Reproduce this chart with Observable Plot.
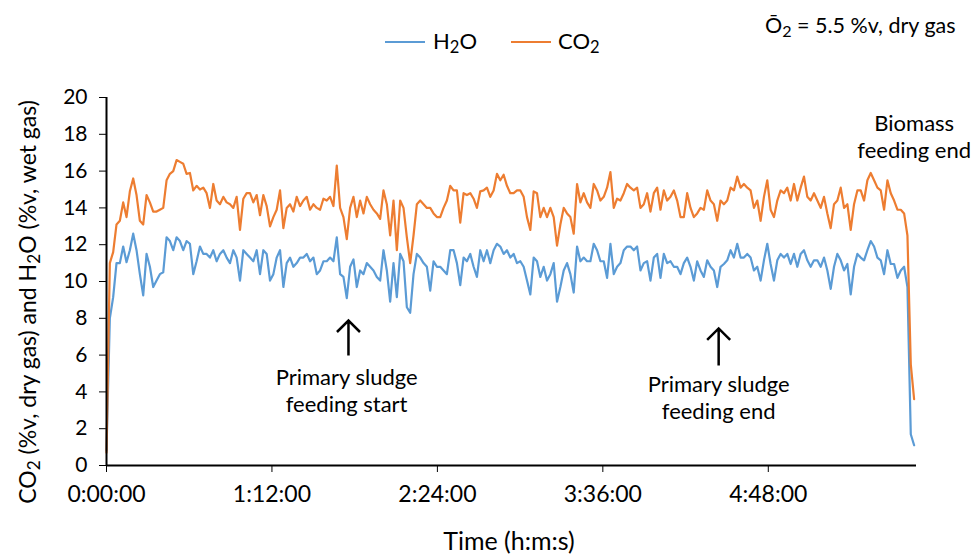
<!DOCTYPE html>
<html>
<head>
<meta charset="utf-8">
<script src="https://cdn.jsdelivr.net/npm/d3@7"></script>
<script src="https://cdn.jsdelivr.net/npm/@observablehq/plot@0.6"></script>
<style>
  body { margin: 0; background: #fff; }
  #wrap { position: relative; width: 971px; height: 557px; font-family: Lato, "Open Sans", sans-serif; color: #000; }
  #wrap svg { position: absolute; left: 0; top: 0; }
  .ov { position: absolute; white-space: nowrap; line-height: 1; }
  .sub { font-size: 0.75em; position: relative; top: 0.22em; }
  .sw { position: absolute; height: 2px; width: 40px; }
  #wrap svg g[aria-label^="x-axis"] text { font-size: 23px; }
</style>
</head>
<body>
<div id="wrap">
  <div class="sw" style="left:385px;top:41px;background:#5B9BD5"></div>
  <div class="ov" style="left:433px;top:30px;font-size:22px">H<span class="sub">2</span>O</div>
  <div class="sw" style="left:511px;top:41px;background:#ED7D31"></div>
  <div class="ov" style="left:558px;top:30px;font-size:22px">CO<span class="sub">2</span></div>
  <div class="ov" style="left:765px;top:15px;font-size:21.5px">Ō<span class="sub">2</span> = 5.5 %v, dry gas</div>
  <div class="ov" style="left:509px;top:528px;font-size:25px;transform:translateX(-50%)">Time (h:m:s)</div>
  <div class="ov" style="left:27px;top:302px;font-size:23px;transform:translate(-50%,-50%) rotate(-90deg)">CO<span class="sub">2</span> (%v, dry gas) and H<span class="sub">2</span>O (%v, wet gas)</div>
</div>
<script>
// Sample interval of the logged gas analyser data (seconds)
const sampleSeconds = 87.14;

// CO2 (%v, dry gas)
const co2 = [
  0.7,
  11.0, 11.6, 13.1, 13.3, 14.3, 13.5, 14.9, 15.6, 14.7, 13.3, 13.1, 14.7, 14.3, 13.8, 13.8, 13.9, 14.0, 15.5, 15.85, 16.0,
  16.6, 16.5, 16.4, 15.85, 15.9, 14.95, 15.2, 15.0, 15.1, 14.8, 14.0, 15.3, 14.4, 14.2, 14.6, 14.3, 14.2, 14.0, 14.6, 12.8,
  14.5, 14.8, 14.8, 14.3, 14.7, 13.6, 14.7, 14.1, 13.0, 13.5, 13.9, 14.95, 12.9, 14.0, 14.2, 13.8, 14.6, 14.1, 14.4,
  14.6, 13.9, 14.2, 14.0, 13.9, 14.5, 14.4, 14.6, 14.1, 16.3, 14.0, 13.5, 12.3, 14.0, 14.6, 13.5, 14.4, 13.7, 14.6, 14.2,
  13.9, 13.7, 13.4, 14.95, 14.2, 12.5, 14.4, 11.7, 14.4, 14.0, 12.4, 11.0, 12.5, 14.2, 14.4, 14.2, 14.0, 14.0, 13.7, 13.5,
  13.5, 14.0, 14.4, 15.2, 14.95, 14.95, 13.2, 14.8, 14.7, 14.8, 14.5, 14.0, 14.9, 14.95, 15.1, 14.6, 14.95, 15.85, 15.5, 15.8,
  15.2, 14.8, 14.8, 14.95, 14.95, 14.6, 13.5, 12.8, 14.9, 14.8, 13.5, 14.0, 13.5, 14.0, 13.5, 11.95, 13.1, 14.0, 13.7, 13.5,
  12.6, 15.3, 14.3, 14.8, 14.3, 14.0, 15.3, 14.95, 14.4, 14.6, 15.1, 15.95, 14.0, 14.5, 14.4, 14.8, 15.3, 15.1, 14.95, 15.1,
  14.0, 14.2, 14.8, 13.8, 14.8, 15.1, 13.9, 14.95, 14.4, 14.6, 14.95, 14.4, 13.5, 13.5, 14.8, 14.0, 13.5, 13.7, 14.0, 13.9,
  14.95, 14.4, 14.2, 13.3, 14.4, 14.2, 14.4, 15.1, 14.95, 15.7, 15.1, 15.3, 15.1, 14.95, 14.0, 14.4, 13.3, 14.6, 15.5, 13.9,
  13.5, 14.4, 14.95, 14.8, 15.1, 14.4, 15.3, 14.4, 15.1, 15.7, 14.6, 14.4, 14.8, 14.4, 14.0, 14.6, 13.7, 12.9, 14.2, 14.4,
  15.1, 14.0, 14.2, 12.8, 14.2, 14.95, 14.95, 14.4, 15.5, 15.9, 15.5, 15.1, 14.95, 13.9, 15.5, 14.8, 14.4, 13.9, 13.9, 13.7,
  12.5, 5.5, 3.6
];

// H2O (%v, wet gas)
const h2o = [
  0.8,
  8.0, 9.15, 11.0, 11.0, 11.9, 11.05, 11.7, 12.6, 11.7, 10.4, 9.25, 11.5, 10.8, 9.7, 10.05, 10.4, 10.5, 12.4, 12.2, 11.7,
  12.4, 12.2, 11.7, 12.2, 12.05, 10.4, 11.1, 11.9, 11.5, 11.5, 11.3, 11.7, 11.1, 11.5, 11.7, 11.3, 11.0, 11.7, 11.3, 10.05,
  11.7, 11.5, 11.3, 11.1, 11.7, 10.4, 11.7, 11.5, 10.05, 10.4, 11.3, 11.7, 9.7, 11.0, 11.3, 10.8, 11.0, 11.3, 11.3,
  11.5, 11.1, 11.3, 10.4, 10.6, 11.1, 11.1, 11.3, 11.1, 12.4, 10.4, 10.25, 9.1, 10.8, 11.2, 9.7, 10.6, 10.4, 11.0, 10.8,
  10.6, 10.25, 10.05, 11.7, 10.6, 8.9, 11.0, 9.15, 11.5, 11.1, 8.6, 8.3, 10.4, 11.5, 11.3, 11.0, 10.8, 9.5, 11.1, 10.8,
  10.8, 10.6, 10.4, 11.7, 11.7, 11.0, 9.8, 11.3, 11.1, 11.5, 10.8, 10.25, 11.7, 11.1, 11.7, 11.0, 11.7, 12.05, 11.9, 11.5,
  11.7, 11.3, 11.5, 11.0, 11.1, 10.8, 10.05, 9.3, 11.3, 11.1, 10.25, 10.8, 10.05, 10.4, 11.0, 8.9, 9.7, 10.6, 11.0, 10.4,
  9.4, 11.9, 11.1, 11.3, 11.1, 11.1, 12.05, 11.7, 11.1, 11.1, 10.2, 12.05, 10.4, 10.8, 11.0, 11.7, 11.9, 11.9, 11.7, 11.9,
  10.6, 11.0, 11.1, 10.05, 11.3, 11.5, 10.2, 11.5, 11.0, 11.1, 10.8, 10.8, 10.4, 11.0, 11.3, 10.8, 10.05, 11.1, 10.6, 10.25,
  11.15, 10.8, 10.6, 9.7, 10.8, 10.95, 11.15, 11.7, 11.3, 12.05, 11.3, 11.3, 11.5, 11.3, 10.6, 10.8, 10.05, 11.15, 12.05, 10.95,
  10.05, 11.15, 11.5, 11.3, 11.5, 10.95, 11.5, 10.8, 11.5, 11.7, 11.15, 10.8, 11.15, 11.15, 10.8, 11.3, 10.6, 9.6, 10.8, 11.5,
  11.15, 10.6, 10.95, 9.3, 10.8, 11.5, 11.3, 11.15, 11.7, 12.2, 11.9, 11.3, 11.15, 10.4, 11.7, 10.95, 10.95, 10.2, 10.6, 10.8,
  9.7, 1.7, 1.1
];

// Axis ticks (minutes / %v)
const xTicks = [0, 72, 144, 216, 288];
const yTicks = [0, 2, 4, 6, 8, 10, 12, 14, 16, 18, 20];

// Annotations (time in minutes, values in %v)
const arrows = [
  {t: 105.3, from: 5.98, to: 7.88},
  {t: 266.4, from: 5.43, to: 7.45}
];
const notes = [
  {t: 104.5, v: 4.1, text: "Primary sludge\nfeeding start"},
  {t: 266.4, v: 3.72, text: "Primary sludge\nfeeding end"},
  {t: 351.5, v: 17.9, text: "Biomass\nfeeding end"}
];

const rows = co2.map((c, i) => ({t: i * sampleSeconds / 60, co2: c, h2o: h2o[i]}));
const arrowRows = arrows.map(a => ({t: a.t, from: a.from, len: a.to - a.from}));

const fmt = m => `${Math.floor(m / 60)}:${String(Math.round(m % 60)).padStart(2, "0")}:00`;

// open chevron arrow with a fixed-size head
const chevron = {
  draw(context, l) {
    const w = 11.5;
    context.moveTo(0, 0);
    context.lineTo(0, -l);
    context.moveTo(-w, w - l);
    context.lineTo(0, -l);
    context.lineTo(w, w - l);
  }
};

const chart = Plot.plot({
  width: 971,
  height: 557,
  marginLeft: 106,
  marginRight: 55,
  marginTop: 97,
  marginBottom: 92,
  style: {fontFamily: "Lato, 'Open Sans', sans-serif", fontSize: "21px", color: "#000", background: "transparent", overflow: "visible"},
  x: {domain: [0, 352.5], ticks: xTicks, tickFormat: fmt, tickSize: 7, tickPadding: 13, label: null},
  y: {domain: [0, 20], ticks: yTicks, tickSize: 7, tickPadding: 12, label: null},
  length: {type: "linear", domain: [0, 20], range: [0, 368]},
  marks: [
    Plot.line(rows, {x: "t", y: "h2o", stroke: "#5B9BD5", strokeWidth: 2.2}),
    Plot.line(rows, {x: "t", y: "co2", stroke: "#ED7D31", strokeWidth: 2.2}),
    Plot.ruleX([0], {stroke: "#000", strokeWidth: 2}),
    Plot.ruleY([0], {stroke: "#000", strokeWidth: 2}),
    Plot.vector(arrowRows, {x: "t", y: "from", length: "len", rotate: 0, anchor: "start", shape: chevron, stroke: "#000", strokeWidth: 2.5, strokeLinejoin: "miter", strokeLinecap: "butt"}),
    Plot.text(notes, {x: "t", y: "v", text: "text", fontSize: 22, lineHeight: 1.22, textAnchor: "middle", lineAnchor: "middle", fill: "#000"})
  ]
});
document.getElementById("wrap").prepend(chart);
</script>
</body>
</html>
